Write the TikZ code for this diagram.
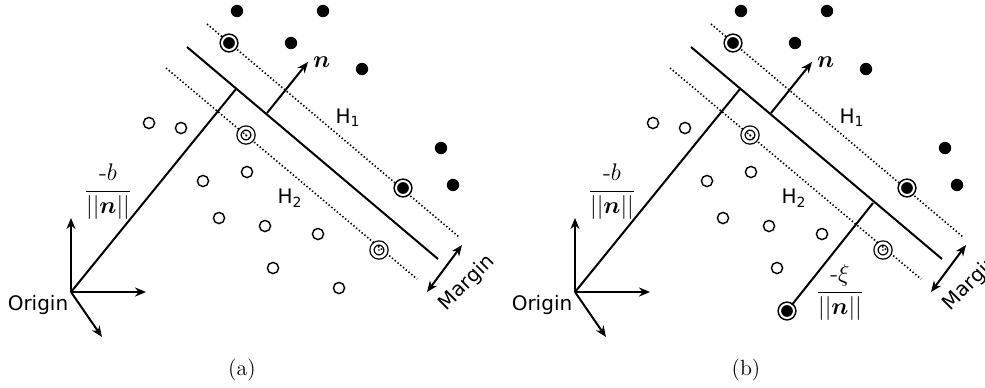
\documentclass[tikz,border=0pt]{standalone}
\usepackage{amsmath, amssymb}
\usepackage{fontspec}
\newfontfamily\labelfont{DejaVu Sans}
\usepackage{tikz}
\usetikzlibrary{arrows.meta, positioning}

\begin{document}
\begin{tikzpicture}[
                x=0.5pt, y=-0.5pt,
                posdot/.style={circle, fill, inner sep=0pt, minimum size=6.2pt},
                negdot/.style={circle, draw, line width=0.7pt, inner sep=0pt, minimum size=5.6pt},
                svpos/.style={circle, draw, fill, inner sep=0pt, minimum size=7pt,
                              line width=0.8pt, double=white, double distance=1pt},
                svneg/.style={circle, draw, inner sep=0pt, minimum size=7pt,
                              line width=0.65pt, double=white, double distance=1.4pt,
                              path picture={\fill (path picture bounding box.center) circle (0.45pt);}},
                plane/.style={line width=1pt},
                margin/.style={line width=0.8pt, dash pattern=on 0.7pt off 1.1pt},
                vec/.style={line width=1pt, -{Stealth[length=5.5pt, width=4.5pt]}},
                twovec/.style={line width=1pt, {Stealth[length=5.5pt, width=4.5pt]}-{Stealth[length=5.5pt, width=4.5pt]}},
                txt/.style={font=\labelfont\fontsize{10}{12}\selectfont}
            ]
            \useasboundingbox (0,0) rectangle (985,387);

            \foreach \p/\dx in {a/0, b/504} {
            \begin{scope}[shift={(\dx,0)}]
            % hyperplanes
            \coordinate (\p-h0s) at (187,47);
            \coordinate (\p-h0e) at (438,259);
            \coordinate (\p-h1s) at (207,24);
            \coordinate (\p-h1e) at (459,237);
            \coordinate (\p-h2s) at (166,68);
            \coordinate (\p-h2e) at (417,279);
            \draw[plane] (\p-h0s) -- (\p-h0e);
            \draw[margin] (\p-h1s) -- (\p-h1e);
            \draw[margin] (\p-h2s) -- (\p-h2e);

            % origin and axes
            \coordinate (\p-o) at (71,292);
            \coordinate (\p-foot) at (236,89);
            \coordinate (\p-ax1) at (71,218);
            \coordinate (\p-ax2) at (146,292);
            \coordinate (\p-ax3) at (102,337);
            \draw[vec] (\p-o) -- (\p-ax1);
            \draw[vec] (\p-o) -- (\p-ax2);
            \draw[vec] (\p-o) -- (\p-ax3);
            \draw[plane] (\p-o) -- (\p-foot);
            \node[txt] (\p-olab) at (38,305) {Origin};
            \node (\p-blab) at (108,192) {\large$\dfrac{\text{-}b}{||\boldsymbol{n}||}$};

            % normal vector
            \coordinate (\p-nb) at (267,113);
            \coordinate (\p-nt) at (308,62);
            \draw[vec] (\p-nb) -- (\p-nt);
            \node[right=-1pt of \p-nt] (\p-nlab) {\large$\boldsymbol{n}$};

            % margin
            \coordinate (\p-m1) at (462,245);
            \coordinate (\p-m2) at (427,292);
            \draw[twovec] (\p-m1) -- (\p-m2);
            \node[txt, rotate=45] (\p-mlab) at (467,283) {Margin};
            \node[txt] (\p-h1lab) at (348,118) {H\textsubscript{1}};
            \node[txt] (\p-h2lab) at (290,198) {H\textsubscript{2}};

            % points
            \foreach \x/\y [count=\i] in {237/11, 323/11, 291/43, 362/69, 441/148, 453/185}
                \node[posdot] (\p-pos\i) at (\x,\y) {};
            \foreach \x/\y [count=\i] in {149/123, 181/128, 203/181, 247/172, 219/218, 265/226, 318/234, 273/268}
                \node[negdot] (\p-neg\i) at (\x,\y) {};
            \node[svpos] (\p-svp1) at (229,43) {};
            \node[svpos] (\p-svp2) at (403,188) {};
            \node[svneg] (\p-svn1) at (246,135) {};
            \node[svneg] (\p-svn2) at (379,250) {};

            \node[font=\fontsize{11}{13}\selectfont] (\p-cap) at (242,370) {(\p)};
            \end{scope}
            }

            % only in (a)
            \node[negdot] (a-neg9) at (339,288) {};

            % slack variable in (b)
            \begin{scope}[shift={(504,0)}]
            \coordinate (b-sfoot) at (369,203);
            \node[svpos] (b-slack) at (283,311) {};
            \draw[plane] (b-sfoot) -- (b-slack);
            \node (b-xilab) at (336,293) {\large$\dfrac{\text{-}\xi}{||\boldsymbol{n}||}$};
            \end{scope}
\end{tikzpicture}
\end{document}
